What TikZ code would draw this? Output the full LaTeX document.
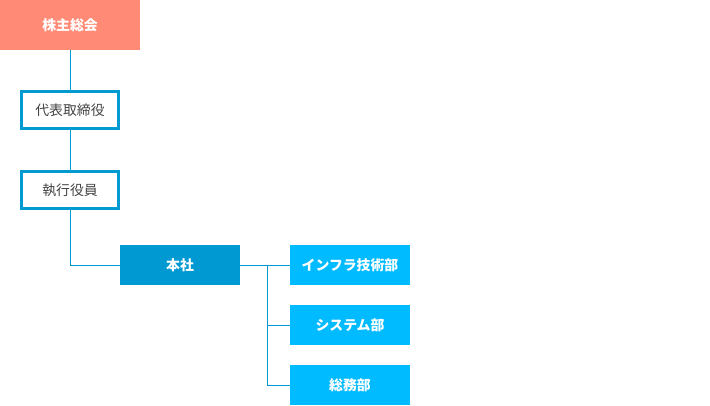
\documentclass[tikz,border=0pt]{standalone}
\usepackage{fontspec}
\newfontfamily\jpfont{Noto Sans CJK JP}
\usetikzlibrary{positioning}
\definecolor{salmon}{HTML}{FF8B76}
\definecolor{hqblue}{HTML}{0099D2}
\definecolor{deptblue}{HTML}{00BBFF}
\definecolor{textgray}{HTML}{444444}
\tikzset{
  orgbox/.style={inner sep=0pt, font=\jpfont\fontsize{10.4}{12}\selectfont},
  filledbox/.style={orgbox, text=white, font=\jpfont\bfseries\fontsize{10.4}{12}\selectfont},
  officer/.style={orgbox, draw=hqblue, line width=2.25pt, fill=white, text=textgray,
    minimum width=72.75pt, minimum height=27.75pt},
  dept/.style={filledbox, fill=deptblue, minimum width=90pt, minimum height=30pt},
  link/.style={draw=hqblue, line width=0.75pt}
}
\begin{document}
\begin{tikzpicture}[x=0.75pt,y=-0.75pt]
\useasboundingbox (0,0) rectangle (710,405);

\node[filledbox, fill=salmon, minimum width=105pt, minimum height=37.5pt] (gm) at (70,25) {株主総会};
\node[officer] (ceo) at (70,110) {代表取締役};
\node[officer] (exec) at (70,190) {執行役員};
\node[filledbox, fill=hqblue, minimum width=90pt, minimum height=30pt] (hq) at (180,265) {本社};

\node[dept] (infra) at (350,265) {インフラ技術部};
\node[dept] (sys) at (350,325) {システム部};
\node[dept] (admin) at (350,385) {総務部};

\coordinate (fork) at (267,265);

\draw[link] (gm.south) -- (ceo.north);
\draw[link] (ceo.south) -- (exec.north);
\draw[link] (exec.south) |- (hq.west);
\draw[link] (hq.east) -- (infra.west);
\draw[link] (fork) |- (sys.west);
\draw[link] (fork) |- (admin.west);
\end{tikzpicture}
\end{document}
